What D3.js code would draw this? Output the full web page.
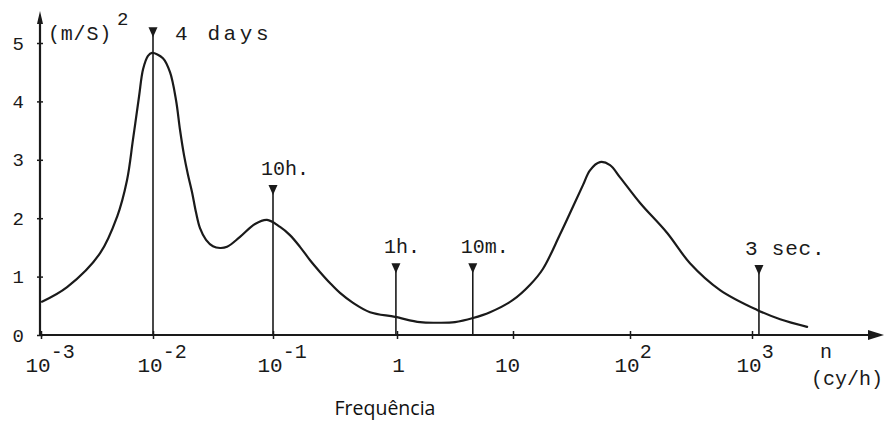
<!DOCTYPE html>
<html>
<head>
<meta charset="utf-8">
<script src="https://cdn.jsdelivr.net/npm/d3@7"></script>
<style>
  html, body { margin: 0; padding: 0; background: #fff; }
  svg { display: block; }
  .mono { font-family: "Liberation Mono", "DejaVu Sans Mono", monospace; fill: #1a1a1a; }
</style>
</head>
<body>
<svg id="chart" width="887" height="424"></svg>
<script>
// Wind speed energy spectrum: frequency (cy/h) vs spectral energy (m/s)^2
const frequency = [
  0.00102, 0.00171, 0.00337, 0.00477, 0.00586, 0.00662, 0.0075, 0.00815, 0.00902, 0.0098,
  0.0121, 0.01386, 0.01556, 0.0168, 0.01813, 0.01958, 0.02113, 0.02282, 0.02464, 0.02766,
  0.0316, 0.0362, 0.0414, 0.0531, 0.0708, 0.0891, 0.114, 0.137, 0.165, 0.199,
  0.239, 0.288, 0.347, 0.442, 0.606, 0.964, 1.58, 2.21, 3.16, 4.52,
  6.34, 10.0, 14.0, 18.0, 25.2, 32.6, 39.7, 45.5, 55.4, 67.5,
  82.2, 121, 201, 310, 547, 1100, 1700, 2830
];
const energy = [
  0.57, 0.82, 1.40, 2.02, 2.65, 3.34, 4.08, 4.55, 4.78, 4.83,
  4.74, 4.50, 4.02, 3.51, 3.08, 2.74, 2.45, 2.10, 1.83, 1.63,
  1.52, 1.49, 1.51, 1.68, 1.90, 1.97, 1.85, 1.71, 1.51, 1.28,
  1.08, 0.89, 0.72, 0.55, 0.39, 0.31, 0.22, 0.21, 0.22, 0.29,
  0.39, 0.60, 0.86, 1.13, 1.72, 2.20, 2.57, 2.82, 2.96, 2.91,
  2.70, 2.26, 1.75, 1.23, 0.77, 0.43, 0.27, 0.14
];

// Period markers (label, frequency in cy/h, height of the arrow head in (m/s)^2)
const markerLabels = ["4 days", "10h.", "1h.", "10m.", "3 sec."];
const markerFreqs  = [0.01, 0.1, 0.98, 4.5, 1140];
const markerTops   = [5.27, 2.57, 1.23, 1.23, 1.20];

// Axis ticks
const xTickValues = [1e-3, 1e-2, 1e-1, 1, 10, 100, 1000];
const xTickExponents = [-3, -2, -1, 0, 1, 2, 3];
const yTickValues = [0, 1, 2, 3, 4, 5];

const svg = d3.select("#chart");
const ink = "#1a1a1a";

// hand-drawn decades are not perfectly even, so the log scale is piecewise
const x = d3.scaleLog()
  .domain(xTickValues)
  .range([41, 153, 273, 397, 513, 630, 752]);
const y = d3.scaleLinear().domain([0, 5]).range([335, 43]);

const x0 = 40, y0 = y(0);

// Axis lines with arrow heads
svg.append("line").attr("x1", x0).attr("y1", y0).attr("x2", 876).attr("y2", y0)
  .attr("stroke", ink).attr("stroke-width", 2.2);
svg.append("path").attr("d", `M868,${y0 - 5}L884,${y0}L868,${y0 + 5}Z`).attr("fill", ink);
svg.append("line").attr("x1", x0).attr("y1", y0 + 1).attr("x2", x0).attr("y2", 20)
  .attr("stroke", ink).attr("stroke-width", 2.2);
svg.append("path").attr("d", `M${x0 - 3},24L${x0},11L${x0 + 3},24Z`).attr("fill", ink);

// Y axis ticks and labels
const yAxis = d3.axisLeft(y).tickValues(yTickValues).tickSize(3).tickPadding(13)
  .tickFormat(d3.format("d"));
const gy = svg.append("g").attr("transform", `translate(${x0},0)`).call(yAxis);
gy.select(".domain").remove();
gy.selectAll(".tick line").attr("x1", -3).attr("x2", 3).attr("stroke", ink).attr("stroke-width", 1.5);
gy.selectAll(".tick text").attr("class", "mono").attr("font-size", 19).attr("fill", ink);

// X axis ticks and labels (powers of ten)
const xAxis = d3.axisBottom(x).tickValues(xTickValues).tickSize(4).tickFormat(() => "");
const gx = svg.append("g").attr("transform", `translate(0,${y0})`).call(xAxis);
gx.select(".domain").remove();
gx.selectAll(".tick line").attr("y1", -4).attr("y2", 4).attr("stroke", ink).attr("stroke-width", 1.5);
gx.selectAll(".tick text").each(function (d, i) {
  const t = d3.select(this).attr("class", "mono").attr("font-size", 21).attr("fill", ink)
    .attr("y", 37).attr("dy", null);
  const e = xTickExponents[i];
  if (e === 0 || e === 1) {
    t.attr("text-anchor", "middle").attr("x", e === 0 ? 1 : -6).text(e === 0 ? "1" : "10");
  } else {
    t.attr("text-anchor", "start").attr("x", -16).text("10");
    t.append("tspan").attr("font-size", 20).attr("dy", -14).text(e);
  }
});

// Marker lines with arrow heads and period labels
markerFreqs.forEach((f, i) => {
  const mx = x(f), top = y(markerTops[i]);
  svg.append("line").attr("x1", mx).attr("x2", mx).attr("y1", top + 4).attr("y2", y0)
    .attr("stroke", ink).attr("stroke-width", 1.6);
  svg.append("path").attr("d", `M${mx - 4.5},${top}L${mx + 4.5},${top}L${mx},${top + 10}Z`).attr("fill", ink);
  const lbl = svg.append("text").attr("class", "mono").text(markerLabels[i]);
  if (i === 0) {
    lbl.attr("x", mx + 22).attr("y", top + 13).attr("font-size", 21).attr("letter-spacing", 3.6);
  } else if (i === 4) {
    lbl.attr("x", mx - 14).attr("y", top - 10).attr("font-size", 21).attr("letter-spacing", 0.8);
  } else {
    lbl.attr("x", mx - 12).attr("y", top - 10).attr("font-size", 20);
  }
});

// Spectrum curve
const pts = frequency.map((f, i) => ({ f, v: energy[i] }));
const line = d3.line().x(d => x(d.f)).y(d => y(d.v)).curve(d3.curveCatmullRom.alpha(0.5));
svg.append("path").datum(pts).attr("d", line)
  .attr("fill", "none").attr("stroke", ink).attr("stroke-width", 2.2)
  .attr("stroke-linejoin", "round").attr("stroke-linecap", "round");

// Unit labels
svg.append("text").attr("class", "mono").attr("x", 48).attr("y", 40).attr("font-size", 20)
  .attr("letter-spacing", 0.8).text("(m/S)");
svg.append("text").attr("class", "mono").attr("x", 117).attr("y", 25).attr("font-size", 19).text("2");
svg.append("text").attr("class", "mono").attr("x", 820).attr("y", 358).attr("font-size", 20).text("n");
svg.append("text").attr("class", "mono").attr("x", 811).attr("y", 385).attr("font-size", 20).text("(cy/h)");

// Axis title
svg.append("text").attr("x", 385).attr("y", 415).attr("text-anchor", "middle")
  .attr("font-family", "'Open Sans', 'Noto Sans', sans-serif").attr("font-size", 19.5)
  .attr("fill", "#111").text("Frequência");
</script>
</body>
</html>
